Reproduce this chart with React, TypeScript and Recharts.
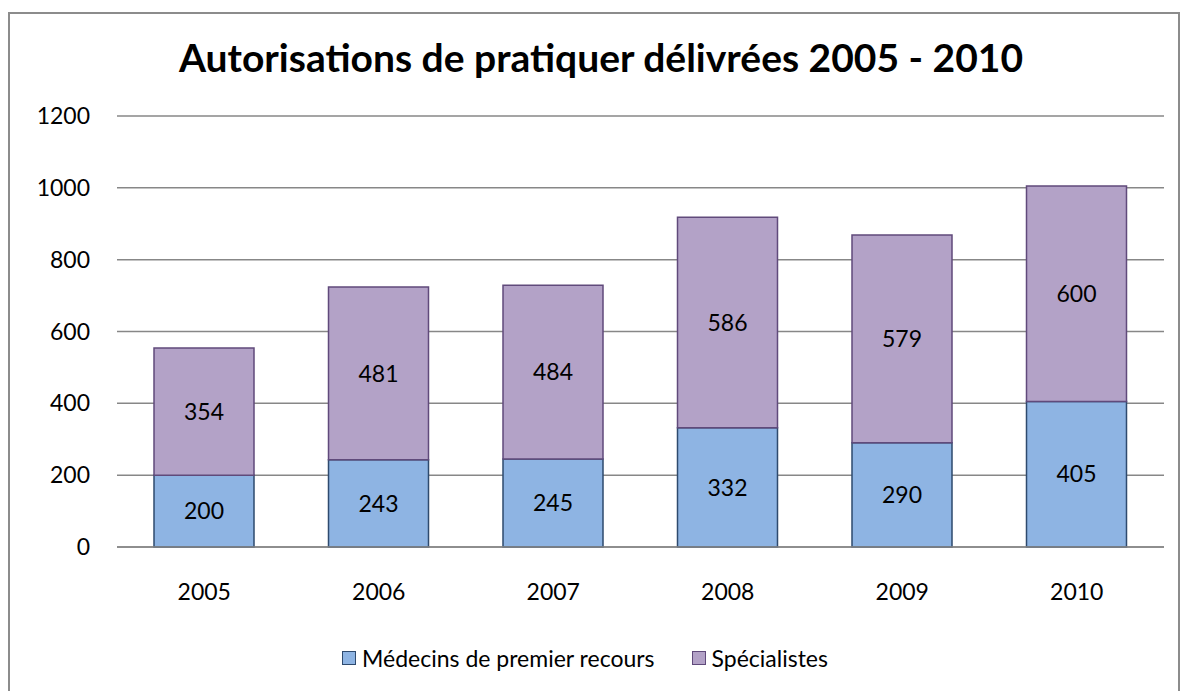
import { BarChart, Bar, XAxis, YAxis, CartesianGrid, Legend, LabelList } from 'recharts';

const years = ['2005', '2006', '2007', '2008', '2009', '2010'];
const medecins = [200, 243, 245, 332, 290, 405];
const specialistes = [354, 481, 484, 586, 579, 600];
const yTicks = [0, 200, 400, 600, 800, 1000, 1200];

const data = years.map((year, i) => ({
  year,
  medecins: medecins[i],
  specialistes: specialistes[i],
}));

const font = 'Lato, "Open Sans", sans-serif';

const series = [
  { key: 'medecins', name: 'Médecins de premier recours', fill: '#8EB4E3', stroke: '#2E4A6E' },
  { key: 'specialistes', name: 'Spécialistes', fill: '#B3A2C7', stroke: '#604A7B' },
];

function LegendContent() {
  return (
    <div style={{ display: 'flex', justifyContent: 'center', gap: 37, fontFamily: font, fontSize: 23, color: '#000' }}>
      {series.map((s) => (
        <div key={s.key} style={{ display: 'flex', alignItems: 'center', gap: 6 }}>
          <span style={{ width: 12, height: 12, background: s.fill, border: `1.5px solid ${s.stroke}`, display: 'inline-block' }} />
          <span>{s.name}</span>
        </div>
      ))}
    </div>
  );
}

export default function App() {
  return (
    <div style={{ position: 'absolute', left: 0, top: 0, width: 1182, height: 691, overflow: 'hidden', background: '#fff' }}>
      <div style={{ position: 'absolute', left: 8, top: 12, width: 1168, height: 700, border: '2px solid #8c8c8c' }} />
      <div
        style={{
          position: 'absolute',
          left: 10,
          width: 1182,
          top: 34,
          textAlign: 'center',
          fontFamily: font,
          fontWeight: 700,
          fontSize: 39,
          lineHeight: 'normal',
          color: '#000',
        }}
      >
        Autorisations de pratiquer délivrées 2005 - 2010
      </div>
      <div style={{ position: 'absolute', left: 0, top: 0 }}>
        <BarChart
          width={1182}
          height={691}
          data={data}
          margin={{ top: 116, right: 18, left: 0, bottom: 0 }}
          barSize={100}
        >
          <CartesianGrid vertical={false} stroke="#878787" strokeWidth={1.5} />
          <YAxis
            width={117}
            domain={[0, 1200]}
            ticks={yTicks}
            axisLine={false}
            tickLine={false}
            tickSize={0}
            tickMargin={27}
            tick={{ fill: '#000', fontSize: 23, fontFamily: font }}
          />
          <XAxis
            dataKey="year"
            height={144}
            axisLine={{ stroke: '#878787', strokeWidth: 1.5 }}
            tickLine={false}
            tickSize={0}
            tickMargin={37}
            tick={{ fill: '#000', fontSize: 23, fontFamily: font }}
          />
          <Legend
            layout="horizontal"
            verticalAlign="middle"
            align="center"
            content={<LegendContent />}
            wrapperStyle={{ top: 644, left: -6, width: 1182 }}
          />
          {series.map((s) => (
            <Bar
              key={s.key}
              dataKey={s.key}
              name={s.name}
              stackId="a"
              fill={s.fill}
              stroke={s.stroke}
              strokeWidth={1.5}
              isAnimationActive={false}
            >
              <LabelList dataKey={s.key} position="center" fill="#000" fontSize={23} fontFamily={font} />
            </Bar>
          ))}
        </BarChart>
      </div>
    </div>
  );
}
